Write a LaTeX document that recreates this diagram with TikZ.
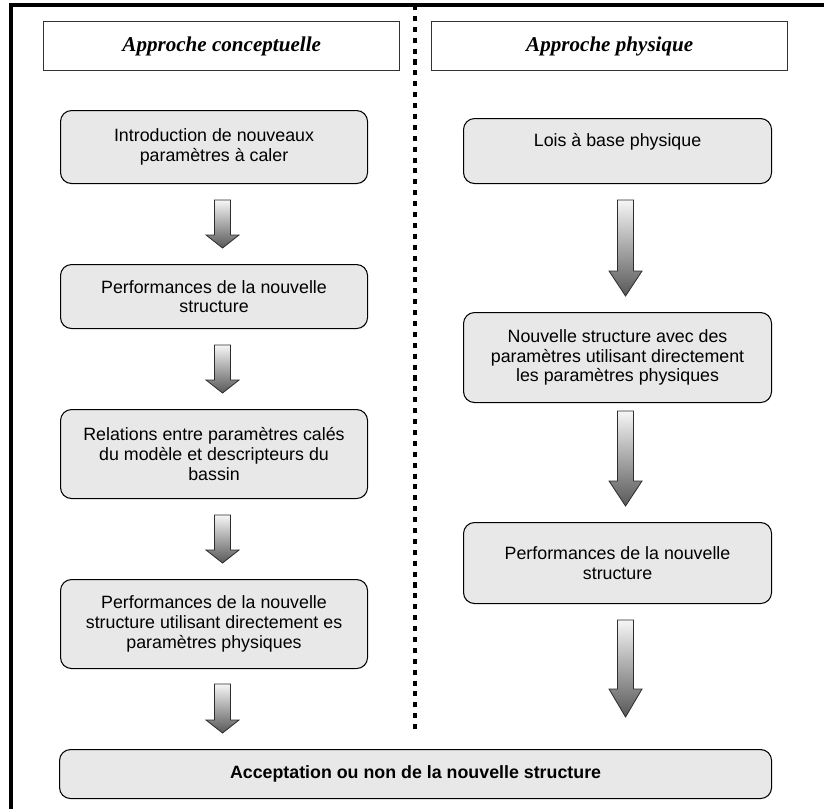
\documentclass[tikz,border=0pt]{standalone}
\usepackage{fontspec}
\setmainfont{Liberation Sans}
\newfontfamily\headfont{Liberation Serif}
\usetikzlibrary{calc}
\definecolor{BoxFill}{RGB}{232,232,232}
\definecolor{ArrowTop}{RGB}{246,246,246}
\definecolor{ArrowBottom}{RGB}{88,88,88}
\definecolor{ArrowLine}{RGB}{45,45,45}
\definecolor{HeadLine}{RGB}{50,50,50}

% block arrow: {from}{to}{x offset}{gap below from}{gap above to}{head length}
\newcommand{\grarrow}[6]{%
  \path ($(#1.south)+(#3,#4)$) coordinate (tail);
  \path ($(tail |- #2.north)+(0,-#5)$) coordinate (tip);
  \shadedraw[garrow] ($(tail)+(-8,0)$) -- ($(tip)+(-8,-#6)$) -- ($(tip)+(-16.5,-#6)$) -- (tip)
    -- ($(tip)+(16.5,-#6)$) -- ($(tip)+(8,-#6)$) -- ($(tail)+(8,0)$) -- cycle;}

\begin{document}
\begin{tikzpicture}[x=0.03cm,y=-0.03cm,
    stage/.style={rectangle,rounded corners=0.33cm,draw=black,line width=0.9pt,fill=BoxFill,align=center,anchor=north west,inner sep=2pt,font=\fontsize{15.2}{16.8}\selectfont},
    header/.style={rectangle,draw=HeadLine,line width=1.2pt,anchor=north west,minimum width=10.68cm,minimum height=1.47cm,font=\headfont\bfseries\itshape\fontsize{18}{20}\selectfont},
    garrow/.style={top color=ArrowTop,bottom color=ArrowBottom,draw=ArrowLine,line width=0.7pt}
]
\useasboundingbox (0,0) rectangle (824,809);

% Frame and divider
\draw[line width=3.4pt] (824,5) -- (11,5) -- (11,809);
\draw[line width=4pt,dash pattern=on 4.3pt off 5pt] (415,5) -- (415,730);

% Headers
\node[header] (head-concept) at (43,21) {Approche conceptuelle};
\node[header] (head-phys) at (431,21) {Approche physique};

% Conceptual approach
\node[stage,minimum width=9.21cm,minimum height=2.19cm] (intro) at (60,110) {Introduction de nouveaux\\paramètres à caler};
\node[stage,minimum width=9.21cm,minimum height=1.92cm] (perf-c) at (60,264) {Performances de la nouvelle\\structure};
\node[stage,minimum width=9.21cm,minimum height=2.67cm] (relations) at (60,409) {Relations entre paramètres calés\\du modèle et descripteurs du\\bassin};
\node[stage,minimum width=9.21cm,minimum height=2.67cm] (perf-direct) at (60,579) {Performances de la nouvelle\\structure utilisant directement es\\paramètres physiques};

% Physical approach
\node[stage,minimum width=9.24cm,minimum height=1.95cm,text depth=0.65cm] (lois) at (463,118) {Lois à base physique};
\node[stage,minimum width=9.24cm,minimum height=2.7cm] (struct-phys) at (463,312) {Nouvelle structure avec des\\paramètres utilisant directement\\les paramètres physiques};
\node[stage,minimum width=9.24cm,minimum height=2.43cm] (perf-p) at (463,522) {Performances de la nouvelle\\structure};

% Decision
\node[stage,minimum width=21.36cm,minimum height=1.47cm,font=\bfseries\fontsize{15.2}{16.8}\selectfont] (accept) at (59,749) {Acceptation ou non de la nouvelle structure};

% Arrows
\grarrow{intro}{perf-c}{8.5}{16}{16}{13}
\grarrow{perf-c}{relations}{8.5}{16}{16}{13}
\grarrow{relations}{perf-direct}{8.5}{16}{16}{13}
\grarrow{perf-direct}{accept}{8.5}{15}{16}{13}
\grarrow{lois}{struct-phys}{8}{16}{16}{25}
\grarrow{struct-phys}{perf-p}{8}{8}{16}{25}
\grarrow{perf-p}{accept}{8}{16}{32}{28}

\end{tikzpicture}
\end{document}
